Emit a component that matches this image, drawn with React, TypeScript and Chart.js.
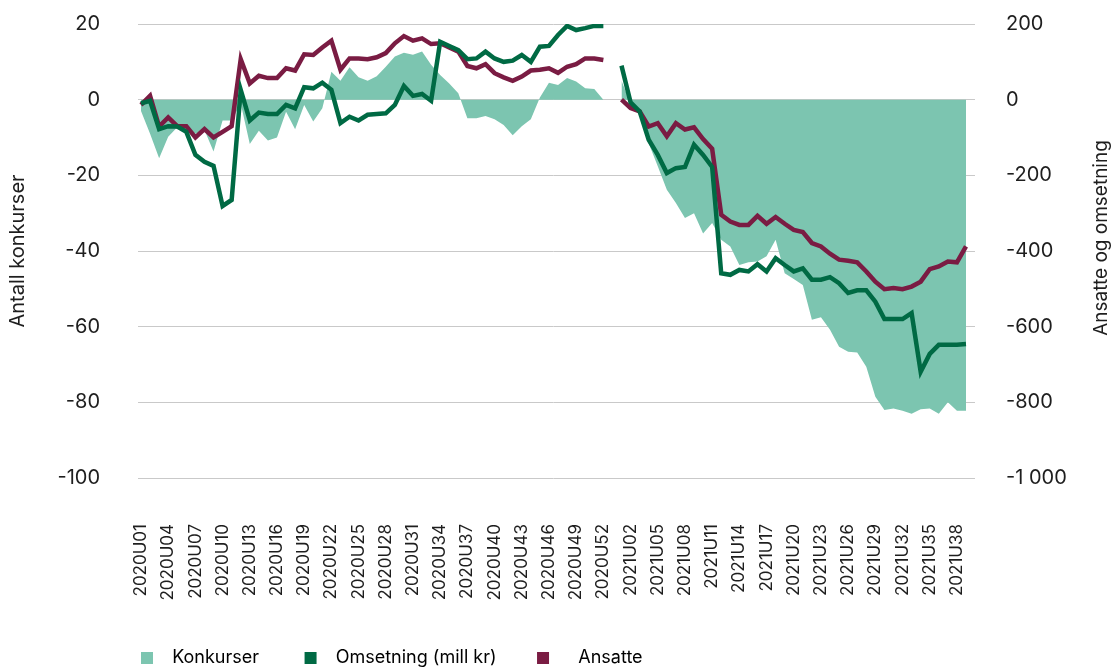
import React, { useEffect, useRef } from "react";
import { Chart, registerables } from "chart.js";

Chart.register(...registerables);

// ---- Data ----
const weeks2020: number[] = Array.from({ length: 53 }, (_, i) => i + 1);
const weeks2021: number[] = Array.from({ length: 39 }, (_, i) => i + 1);
const categories: string[] = [
  ...weeks2020.map((w) => `2020U${String(w).padStart(2, "0")}`),
  ...weeks2021.map((w) => `2021U${String(w).padStart(2, "0")}`),
];

const konkurser: (number | null)[] = [
  -3, -9, -15.5, -9.8, -7.3, -8, -9, -8, -13.7, -5.5,
  -5.5, -1, -11.7, -8.2, -10.8, -10, -3.2, -7.8, -1.4, -5.8,
  -2.3, 7.4, 5, 8.6, 5.9, 5, 6.2, 8.7, 11.4, 12.4,
  11.9, 12.7, 9.2, 6.5, 4.3, 1.7, -4.9, -4.9, -4.3, -5.2,
  -6.7, -9.4, -7, -5.2, 0.6, 4.5, 3.9, 5.7, 4.8, 3,
  2.8, 0, null, 5, -1, -3.5, -11.5, -17.6, -23.8, -27.3,
  -31.3, -30, -35.4, -32.6, -37, -38.8, -43.7, -43, -42.8, -41.4,
  -37, -45.9, -47.4, -49, -58.2, -57.5, -60.8, -65.3, -66.6, -66.8,
  -70.6, -78.5, -82, -81.6, -82.2, -83, -81.8, -81.6, -83, -80,
  -82.2, -82.2,
];

const omsetning: (number | null)[] = [
  -10, -3, -78, -70, -71, -85, -146, -164, -175, -281,
  -265, 26, -55, -34, -38, -38, -14, -23, 33, 30,
  45, 26, -62, -45, -55, -40, -38, -36, -14, 36,
  10, 15, -3, 153, 142, 131, 107, 109, 127, 109,
  100, 103, 118, 100, 140, 142, 171, 195, 184, 189,
  195, 195, null, 90, -7, -31, -106, -146, -194, -181,
  -178, -119, -146, -178, -459, -463, -450, -454, -435, -454,
  -419, -437, -454, -446, -476, -476, -469, -485, -511, -504,
  -504, -534, -580, -580, -580, -564, -719, -672, -648, -648,
  -648, -646,
];

const ansatte: (number | null)[] = [
  -14, 10, -71, -47, -70, -70, -100, -78, -100, -85,
  -70, 107, 43, 63, 57, 57, 83, 77, 120, 118,
  138, 156, 79, 109, 109, 107, 112, 123, 149, 168,
  156, 162, 147, 149, 138, 127, 89, 83, 94, 70,
  59, 50, 61, 77, 79, 83, 71, 87, 94, 109,
  109, 105, null, 0, -22, -31, -71, -62, -97, -62,
  -79, -73, -104, -130, -304, -322, -331, -331, -307, -328,
  -310, -328, -344, -350, -379, -388, -407, -423, -426, -430,
  -454, -481, -501, -498, -501, -494, -481, -448, -441, -428,
  -430, -388,
];

const seriesNames: string[] = ["Konkurser", "Omsetning (mill kr)", "Ansatte"];
const leftTitle = "Antall konkurser";
const rightTitle = "Ansatte og omsetning";

// ---- Styles ----
const TEAL = "#7cc5b0";
const GREEN = "#006a44";
const MAROON = "#7a1c43";
const TEXT = "#1e1e1e";
const GRID = "#c9c9c9";
const FONT = "Inter";

function fmtThousands(v: number): string {
  const s = Math.abs(v).toString().replace(/\B(?=(\d{3})+(?!\d))/g, " ");
  return (v < 0 ? "-" : "") + s;
}

const rightTitlePlugin = {
  id: "rightTitle",
  afterDraw(chart: any) {
    const ctx = chart.ctx;
    ctx.save();
    ctx.translate(1101, 238);
    ctx.rotate(-Math.PI / 2);
    ctx.fillStyle = TEXT;
    ctx.font = `19px ${FONT}`;
    ctx.textAlign = "center";
    ctx.textBaseline = "middle";
    ctx.fillText(rightTitle, 0, 0);
    ctx.restore();
  },
};

export default function App() {
  const ref = useRef<HTMLCanvasElement | null>(null);

  useEffect(() => {
    if (!ref.current) return;
    const colors = [TEAL, GREEN, MAROON];
    const legendTexts = [
      "  " + seriesNames[0] + "         ",
      "  " + seriesNames[1] + "        ",
      "    " + seriesNames[2],
    ];
    const chart = new Chart(ref.current, {
      type: "line",
      data: {
        labels: categories,
        datasets: [
          {
            label: seriesNames[0],
            data: konkurser,
            yAxisID: "y",
            fill: "origin",
            backgroundColor: TEAL,
            borderColor: "rgba(0,0,0,0)",
            borderWidth: 0,
            pointRadius: 0,
            tension: 0,
            order: 3,
          },
          {
            label: seriesNames[1],
            data: omsetning,
            yAxisID: "y1",
            fill: false,
            borderColor: GREEN,
            backgroundColor: GREEN,
            borderWidth: 4.5,
            pointRadius: 0,
            tension: 0,
            order: 1,
          },
          {
            label: seriesNames[2],
            data: ansatte,
            yAxisID: "y1",
            fill: false,
            borderColor: MAROON,
            backgroundColor: MAROON,
            borderWidth: 4.5,
            pointRadius: 0,
            tension: 0,
            order: 2,
          },
        ],
      },
      options: {
        responsive: false,
        animation: false,
        devicePixelRatio: 1,
        layout: { padding: { top: 24, right: 0, bottom: 0, left: 0 } },
        plugins: {
          tooltip: { enabled: false },
          legend: {
            display: true,
            position: "bottom",
            align: "start",
            fullSize: false,
            maxHeight: 20,
            labels: {
              boxWidth: 12,
              boxHeight: 12,
              padding: 0,
              color: TEXT,
              font: { family: FONT, size: 18 },
              generateLabels: () =>
                legendTexts.map((t, i) => ({
                  text: t,
                  fillStyle: colors[i],
                  strokeStyle: colors[i],
                  lineWidth: 0,
                  hidden: false,
                  datasetIndex: i,
                })),
            },
          },
        },
        scales: {
          x: {
            type: "category",
            grid: { display: false },
            border: { display: false },
            afterFit: (s: any) => {
              s.height = 171;
            },
            ticks: {
              autoSkip: false,
              maxRotation: 90,
              minRotation: 90,
              padding: 38,
              color: TEXT,
              font: { family: FONT, size: 17 },
              callback: (_v: any, i: number) => (i % 3 === 0 ? categories[i] : ""),
            },
          },
          y: {
            position: "left",
            min: -100,
            max: 20,
            afterFit: (s: any) => {
              s.width = 141;
              s.paddingTop = 0;
              s.paddingBottom = 0;
            },
            grid: { color: GRID, lineWidth: 1, drawTicks: true, tickLength: 3 },
            border: { display: false },
            ticks: {
              stepSize: 20,
              padding: 38,
              color: TEXT,
              font: { family: FONT, size: 20 },
            },
            title: {
              display: true,
              text: leftTitle,
              color: TEXT,
              font: { family: FONT, size: 20 },
              padding: { top: 6, bottom: 0 },
            },
          },
          y1: {
            position: "right",
            min: -1000,
            max: 200,
            afterFit: (s: any) => {
              s.width = 146;
              s.paddingTop = 0;
              s.paddingBottom = 0;
            },
            grid: {
              color: GRID,
              lineWidth: 1,
              drawOnChartArea: false,
              drawTicks: true,
              tickLength: 9,
            },
            border: { display: false },
            ticks: {
              stepSize: 200,
              padding: 31,
              color: TEXT,
              font: { family: FONT, size: 20 },
              callback: (v: any) => fmtThousands(Number(v)),
            },
          },
        },
      },
      plugins: [rightTitlePlugin],
    } as any);
    return () => chart.destroy();
  }, []);

  return (
    <div
      style={{
        position: "fixed",
        left: 0,
        top: 0,
        width: 1112,
        height: 669,
        background: "#fff",
      }}
    >
      <canvas ref={ref} width={1112} height={669} style={{ display: "block" }} />
    </div>
  );
}
